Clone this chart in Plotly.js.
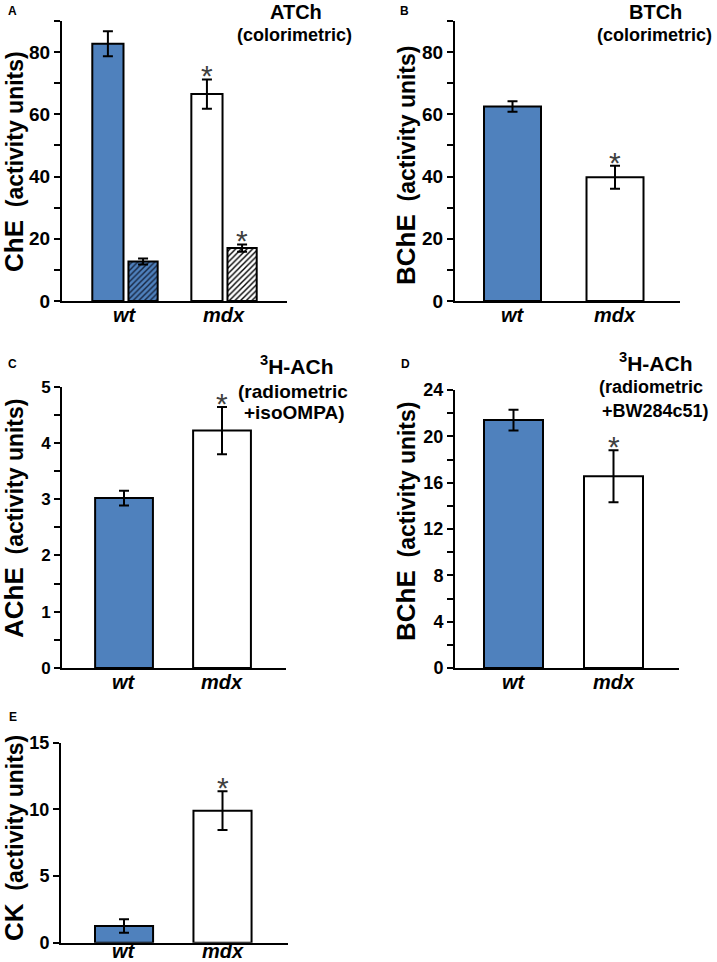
<!DOCTYPE html>
<html>
<head>
<meta charset="utf-8">
<script src="https://cdn.plot.ly/plotly-3.0.1.min.js"></script>
<style>html,body{margin:0;padding:0;background:#fff;}#chart{width:717px;height:962px;}</style>
</head>
<body>
<div id="chart"></div>
<script>
// ---- data ----
const groups = ['wt', 'mdx'];
const aTotal = [82.7, 66.5];
const aTotalErr = [4.0, 4.7];
const aHatch = [12.7, 17.0];
const aHatchErr = [1.0, 1.2];
const bVals = [62.5, 39.8];
const bErr = [1.7, 3.7];
const cVals = [3.02, 4.22];
const cErr = [0.13, 0.42];
const dVals = [21.4, 16.55];
const dErr = [0.9, 2.25];
const eVals = [1.25, 9.9];
const eErr = [0.5, 1.45];
const barColors = ['#4F81BD', '#FFFFFF'];
const hatchLines = ['#16243f', '#000000'];

// ---- helpers ----
const W = 717, H = 962;
const px = v => v / W;
const py = v => 1 - v / H;
const FONT = 'Arial, Liberation Sans, sans-serif';

function errObj(arr) {
  return {type: 'data', array: arr, visible: true, color: '#000', thickness: 2, width: 5};
}
function barTrace(vals, err, xa, ya, width, offset) {
  return {
    type: 'bar', x: groups, y: vals, xaxis: xa, yaxis: ya,
    width: width, offset: offset,
    marker: {color: barColors, line: {color: '#000', width: 2}},
    error_y: errObj(err), hoverinfo: 'none'
  };
}
function hatchTrace(i) {
  return {
    type: 'bar', x: [groups[i]], y: [aHatch[i]], xaxis: 'x', yaxis: 'y',
    width: 0.295, offset: 0.035,
    marker: {
      color: barColors[i], line: {color: '#000', width: 2},
      pattern: {shape: '/', fillmode: 'replace', bgcolor: barColors[i], fgcolor: hatchLines[i],
                fgopacity: 1, size: 4, solidity: 0.35}
    },
    error_y: errObj([aHatchErr[i]]), hoverinfo: 'none'
  };
}

const data = [
  barTrace(aTotal, aTotalErr, 'x', 'y', 0.315, -0.33),
  hatchTrace(0),
  hatchTrace(1),
  barTrace(bVals, bErr, 'x2', 'y2', 0.556, -0.278),
  barTrace(cVals, cErr, 'x3', 'y3', 0.59, -0.295),
  barTrace(dVals, dErr, 'x4', 'y4', 0.59, -0.295),
  barTrace(eVals, eErr, 'x5', 'y5', 0.59, -0.295)
];

function xAx(d0, d1, r0, r1, anchor) {
  return {
    domain: [px(d0), px(d1)], range: [r0, r1], anchor: anchor, type: 'category',
    categoryorder: 'array', categoryarray: groups,
    showline: true, linecolor: '#000', linewidth: 2, ticks: '', showgrid: false, zeroline: false,
    showticklabels: false, fixedrange: true
  };
}
function yAx(top, bottom, rmax, dtick, minor, fs, anchor) {
  const a = {
    domain: [py(bottom), py(top)], range: [0, rmax], anchor: anchor,
    tick0: 0, dtick: dtick, ticks: 'outside', ticklen: 6, tickwidth: 2, tickcolor: '#000',
    showline: true, linecolor: '#000', linewidth: 2, showgrid: false, zeroline: false,
    tickfont: {family: FONT, size: fs, color: '#000', weight: 'bold'},
    fixedrange: true
  };
  if (minor) a.minor = {dtick: minor, tick0: 0, ticks: 'outside', ticklen: 6, tickwidth: 2, tickcolor: '#000', showgrid: false};
  return a;
}

function txt(text, x, y, size, opts) {
  return Object.assign({
    text: text, x: px(x), y: py(y), xref: 'paper', yref: 'paper',
    xanchor: 'center', yanchor: 'middle', showarrow: false,
    font: {family: FONT, size: size, color: '#000', weight: 'bold'}
  }, opts || {});
}
function ytitle(big, x, y) {
  return txt('<span style="font-size:26px">' + big + '</span>\u00a0\u00a0(activity units)', x, y, 23, {textangle: -90});
}
function star(xa, ya, xi, yv) {
  return {
    text: '*', x: xi, y: yv, xref: xa, yref: ya, xanchor: 'center', yanchor: 'bottom',
    yshift: -15, showarrow: false, font: {family: FONT, size: 30, color: '#404040'}
  };
}
function groupLabels(xa, yPix) {
  return groups.map((g, i) => ({
    text: g, x: i, y: py(yPix), xref: xa, yref: 'paper', xanchor: 'center', yanchor: 'middle',
    showarrow: false, font: {family: FONT, size: 20, color: '#000', weight: 'bold', style: 'italic'}
  }));
}

const annotations = [
  txt('A', 12.5, 11, 12), txt('B', 404, 11, 12), txt('C', 12.5, 364, 12),
  txt('D', 405, 364, 12), txt('E', 12.5, 717, 12),
  txt('ATCh', 295.5, 11.5, 20), txt('(colorimetric)', 294.5, 35, 18),
  txt('BTCh', 655, 11.5, 20), txt('(colorimetric)', 654.5, 35, 18),
  txt('<sup>3</sup>H-ACh', 297, 365, 21), txt('(radiometric', 293, 391, 19), txt('+isoOMPA)', 294, 412, 19),
  txt('<sup>3</sup>H-ACh', 655.5, 362, 21), txt('(radiometric', 651, 387, 18), txt('+BW284c51)', 655, 411, 18),
  ytitle('ChE', 14, 162), ytitle('BChE', 406, 166), ytitle('AChE', 14, 519),
  ytitle('BChE', 406, 522), ytitle('CK', 14, 838),
  star('x', 'y', 1 - 0.33 + 0.1575, aTotal[1] + aTotalErr[1]),
  star('x', 'y', 1 + 0.035 + 0.1475, aHatch[1] + aHatchErr[1]),
  star('x2', 'y2', 1, bVals[1] + bErr[1]),
  star('x3', 'y3', 1, cVals[1] + cErr[1]),
  star('x4', 'y4', 1, dVals[1] + dErr[1]),
  star('x5', 'y5', 1, eVals[1] + eErr[1])
].concat(groupLabels('x', 315), groupLabels('x2', 315), groupLabels('x3', 682),
         groupLabels('x4', 682), groupLabels('x5', 951));

const layout = {
  width: W, height: H, margin: {l: 0, r: 0, t: 0, b: 0},
  paper_bgcolor: '#fff', plot_bgcolor: '#fff', showlegend: false,
  font: {family: FONT, color: '#000'},
  xaxis: xAx(62, 287, -0.636, 1.636, 'y'),
  yaxis: yAx(21, 301, 90, 20, 10, 19, 'x'),
  xaxis2: xAx(455, 680, -0.561, 1.634, 'y2'),
  yaxis2: yAx(21, 301, 90, 20, 10, 19, 'x2'),
  xaxis3: xAx(62, 286, -0.633, 1.653, 'y3'),
  yaxis3: yAx(386.7, 668, 5, 1, 0.5, 17, 'x3'),
  xaxis4: xAx(455, 679, -0.585, 1.655, 'y4'),
  yaxis4: yAx(390, 668, 24, 4, 2, 18, 'x4'),
  xaxis5: xAx(61, 288, -0.64, 1.665, 'y5'),
  yaxis5: yAx(742.7, 942.7, 15, 5, null, 18, 'x5'),
  annotations: annotations
};

Plotly.newPlot('chart', data, layout, {staticPlot: true, displayModeBar: false});
</script>
</body>
</html>
